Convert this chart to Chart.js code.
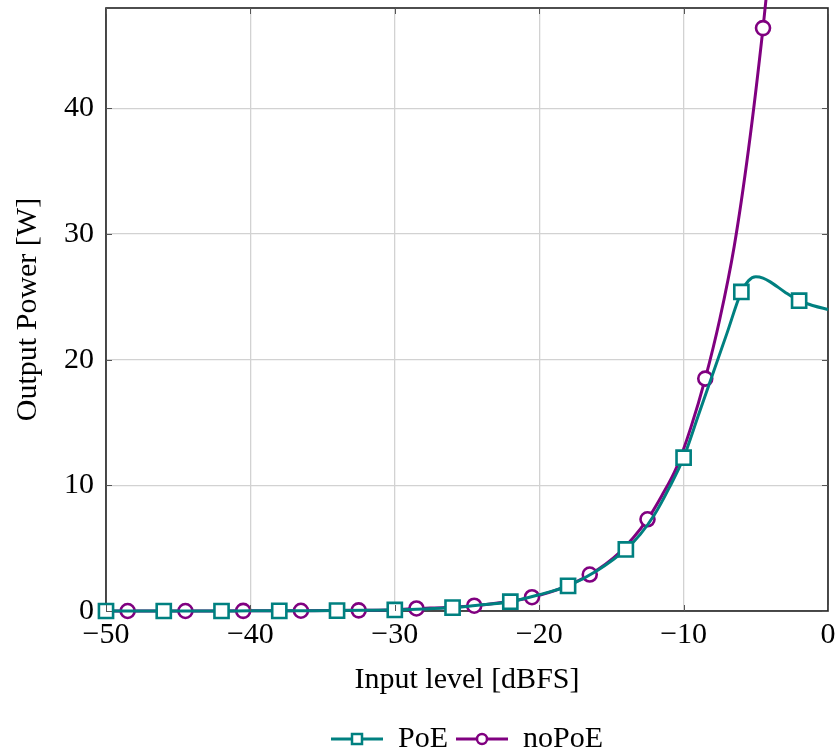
<!DOCTYPE html>
<html>
<head>
<meta charset="utf-8">
<title>Output power vs input level</title>
<script src="https://cdn.jsdelivr.net/npm/chart.js@4.4.1/dist/chart.umd.min.js"></script>
<style>
  html, body { margin: 0; padding: 0; background: #fff; }
  #wrap { width: 840px; height: 756px; }
</style>
</head>
<body>
<div id="wrap"><canvas id="power-chart" width="840" height="756"></canvas></div>
<script>
// Input level in dBFS and output power in W
const poeX = [-50, -48, -46, -44, -42, -40, -38, -36, -34, -32, -30, -28, -26, -24, -22, -20, -18, -16,
              -14, -13, -12, -11, -10, -9, -8, -7, -6, -5.5, -5, -4.5, -4, -3, -2, -1, 0];
const poeY = [0, 0, 0, 0, 0, 0.01, 0.01, 0.02, 0.03, 0.05, 0.08, 0.15, 0.27, 0.5, 0.74, 1.3, 2.0, 3.2,
              4.9, 6.1, 7.7, 9.8, 12.2, 15.5, 18.8, 22.1, 25.4, 26.3, 26.6, 26.5, 26.2, 25.4, 24.7, 24.3, 24.0];
const poeMarkX = [-50, -46, -42, -38, -34, -30, -26, -22, -18, -14, -10, -6, -2];

const noPoeX = [-50, -48.5, -44.5, -40.5, -36.5, -32.5, -30.5, -28.5, -26.5, -24.5, -22.5, -20.5, -18.5,
                -16.5, -14.5, -12.5, -11.5, -10.5, -9.5, -8.5, -7.5, -6.5, -5.5, -4.5, -4];
const noPoeY = [0, 0, 0, 0.01, 0.02, 0.05, 0.08, 0.2, 0.28, 0.42, 0.7, 1.1, 1.8,
                2.9, 4.6, 7.3, 9.2, 11.4, 14.6, 18.5, 23.2, 29.0, 36.8, 46.4, 52.0];
const noPoeMarkX = [-48.5, -44.5, -40.5, -36.5, -32.5, -28.5, -24.5, -20.5, -16.5, -12.5, -8.5, -4.5];

const xTickValues = [-50, -40, -30, -20, -10, 0];
const yTickValues = [0, 10, 20, 30, 40];

const teal = 'rgb(0,128,128)';
const purple = 'rgb(128,0,128)';
const serif = "'Liberation Serif', 'Times New Roman', serif";

function toPoints(xs, ys) {
    return xs.map((x, i) => ({ x: x, y: ys[i] }));
}

function minusLabel(v) {
    return v < 0 ? '\u2212' + Math.abs(v) : String(v);
}

// little line + marker picture for the legend
function legendIcon(color, style) {
    const c = document.createElement('canvas');
    c.width = 52;
    c.height = 20;
    const g = c.getContext('2d');
    g.strokeStyle = color;
    g.lineWidth = 3;
    g.beginPath();
    g.moveTo(0, 10);
    g.lineTo(52, 10);
    g.stroke();
    g.fillStyle = '#fff';
    g.lineWidth = 2.5;
    g.beginPath();
    if (style === 'rect') {
        g.rect(21, 5, 10, 10);
    } else {
        g.arc(26, 10, 5, 0, Math.PI * 2);
    }
    g.fill();
    g.stroke();
    return c;
}

// box around the plot and the small inner ticks
const axisFrame = {
    id: 'axisFrame',
    beforeDatasetsDraw(chart) {
        const a = chart.chartArea;
        const ctx = chart.ctx;
        ctx.save();
        ctx.strokeStyle = '#222';
        ctx.lineWidth = 1.6;
        ctx.strokeRect(a.left, a.top, a.right - a.left, a.bottom - a.top);
        ctx.restore();
    },
    afterDatasetsDraw(chart) {
        const a = chart.chartArea;
        const ctx = chart.ctx;
        const xs = chart.scales.x;
        const ys = chart.scales.y;
        ctx.save();
        ctx.strokeStyle = '#555';
        ctx.lineWidth = 1;
        ctx.beginPath();
        xTickValues.forEach(v => {
            const px = Math.round(xs.getPixelForValue(v)) + 0.5;
            ctx.moveTo(px, a.bottom); ctx.lineTo(px, a.bottom - 6);
            ctx.moveTo(px, a.top); ctx.lineTo(px, a.top + 6);
        });
        yTickValues.forEach(v => {
            const py = Math.round(ys.getPixelForValue(v)) + 0.5;
            ctx.moveTo(a.left, py); ctx.lineTo(a.left + 6, py);
            ctx.moveTo(a.right, py); ctx.lineTo(a.right - 6, py);
        });
        ctx.stroke();
        ctx.restore();
    },
    afterLayout(chart) {
        // center the legend under the plot area and drop it a little lower
        if (chart.legend) {
            chart.legend.left = chart.chartArea.left;
            chart.legend.right = chart.chartArea.right;
            chart.legend.top += 11;
            chart.legend.bottom += 11;
        }
    }
};

document.addEventListener('DOMContentLoaded', function() {
    const ctx = document.getElementById('power-chart');

    new Chart(ctx, {
        type: 'line',
        data: {
            datasets: [
                {
                    label: 'PoE',
                    data: toPoints(poeX, poeY),
                    borderColor: teal,
                    borderWidth: 3,
                    pointStyle: 'rect',
                    pointRadius: c => poeMarkX.includes(c.raw.x) ? 10 : 0,
                    pointBorderWidth: 2.6,
                    pointBackgroundColor: '#fff',
                    pointBorderColor: teal,
                    cubicInterpolationMode: 'monotone',
                    clip: false,
                    order: 0
                },
                {
                    label: 'noPoE',
                    data: toPoints(noPoeX, noPoeY),
                    borderColor: purple,
                    borderWidth: 3,
                    pointStyle: 'circle',
                    pointRadius: c => noPoeMarkX.includes(c.raw.x) ? 7 : 0,
                    pointBorderWidth: 2.6,
                    pointBackgroundColor: '#fff',
                    pointBorderColor: purple,
                    cubicInterpolationMode: 'monotone',
                    clip: false,
                    order: 1
                }
            ]
        },
        options: {
            responsive: false,
            animation: false,
            events: [],
            layout: { autoPadding: false, padding: { top: 8, right: 12, left: 0, bottom: 3 } },
            scales: {
                x: {
                    type: 'linear',
                    min: -50,
                    max: 0,
                    afterBuildTicks: s => { s.ticks = xTickValues.map(v => ({ value: v })); },
                    afterFit: s => { s.height = 94; s.paddingLeft = 0; s.paddingRight = 0; },
                    border: { display: false },
                    grid: { color: '#d2d2d2', lineWidth: 1.3, drawTicks: false },
                    ticks: {
                        padding: 6,
                        color: '#000',
                        maxRotation: 0,
                        font: { family: serif, size: 30 },
                        callback: v => minusLabel(v)
                    },
                    title: {
                        display: true,
                        text: 'Input level [dBFS]',
                        color: '#000',
                        font: { family: serif, size: 30 },
                        padding: { top: 0, bottom: 7 }
                    }
                },
                y: {
                    min: 0,
                    max: 48,
                    afterBuildTicks: s => { s.ticks = yTickValues.map(v => ({ value: v })); },
                    afterFit: s => { s.width = 106; s.paddingTop = 0; s.paddingBottom = 0; },
                    border: { display: false },
                    grid: { color: '#d2d2d2', lineWidth: 1.3, drawTicks: false },
                    ticks: {
                        padding: 12,
                        color: '#000',
                        font: { family: serif, size: 30 },
                        callback: v => minusLabel(v)
                    },
                    title: {
                        display: true,
                        text: 'Output Power [W]',
                        color: '#000',
                        font: { family: serif, size: 30 },
                        padding: { top: 10, bottom: 0 }
                    }
                }
            },
            plugins: {
                tooltip: { enabled: false },
                legend: {
                    position: 'bottom',
                    labels: {
                        usePointStyle: true,
                        pointStyleWidth: 52,
                        padding: 8,
                        color: '#000',
                        font: { family: serif, size: 30 },
                        generateLabels: chart => chart.data.datasets.map((ds, i) => ({
                            text: ds.label,
                            fillStyle: ds.borderColor,
                            strokeStyle: ds.borderColor,
                            lineWidth: 0,
                            pointStyle: legendIcon(ds.borderColor, ds.pointStyle),
                            hidden: false,
                            datasetIndex: i,
                            fontColor: '#000'
                        }))
                    }
                }
            }
        },
        plugins: [axisFrame]
    });
});
</script>
</body>
</html>
